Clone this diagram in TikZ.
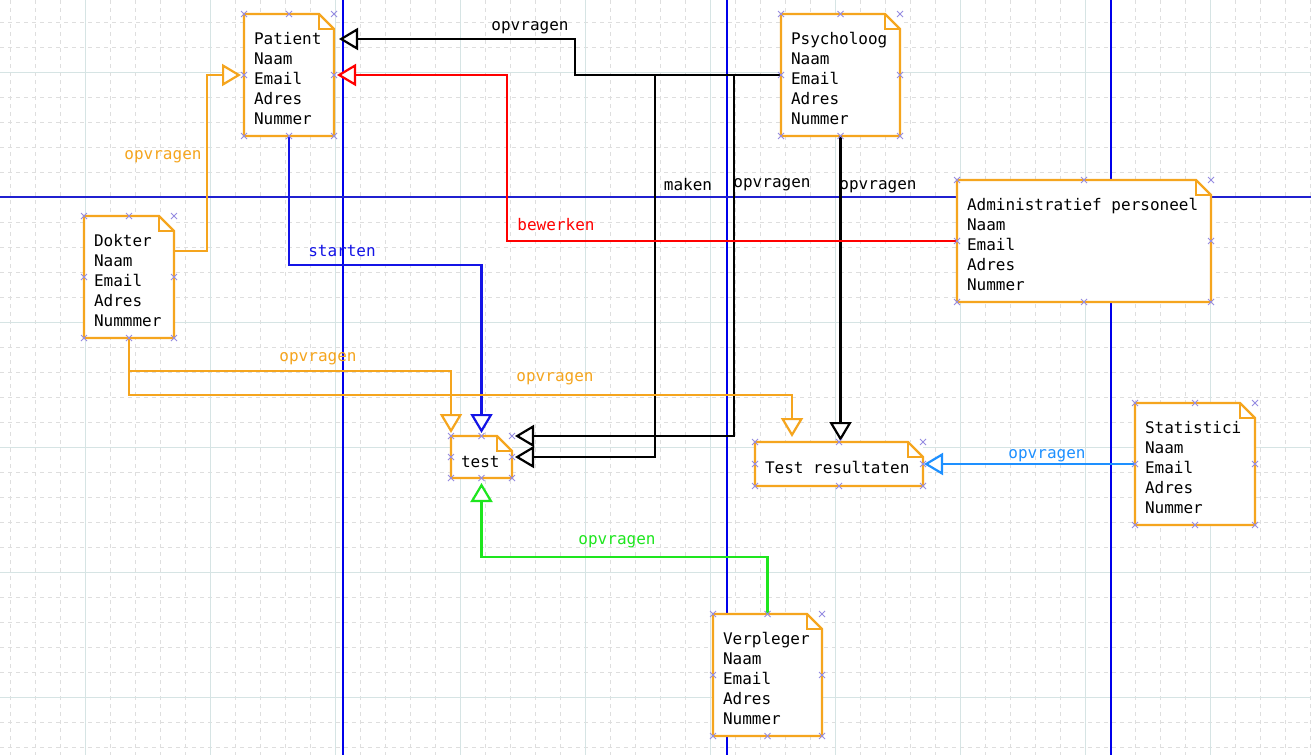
\documentclass[tikz,border=0pt]{standalone}
\usepackage{fontspec}
\newfontfamily\diafont{DejaVu Sans Mono}
\usepackage{tikz}
\usetikzlibrary{arrows.meta, calc, positioning}

\definecolor{diaorange}{RGB}{245,165,30}
\definecolor{diared}{RGB}{255,0,0}
\definecolor{diablue}{RGB}{20,20,230}
\definecolor{skyblue}{RGB}{30,144,255}
\definecolor{diagreen}{RGB}{30,230,30}
\definecolor{pageblue}{RGB}{0,0,235}
\definecolor{gridminor}{RGB}{222,222,222}
\definecolor{gridmajor}{RGB}{214,228,228}
\definecolor{cptcolor}{RGB}{150,140,225}

\newcommand{\boxfont}{\diafont\fontsize{16pt}{20pt}\selectfont}
\newcommand{\monosp}{\hspace*{0.602em}}

\tikzset{
  notebox/.style={anchor=north west, fill=white, outer sep=0pt, inner xsep=10pt,
    inner ysep=0pt, align=left, font=\boxfont, text height=30pt, text depth=92pt},
  notesmall/.style={notebox, text height=31pt, text depth=12pt},
  noteline/.style={draw=diaorange, line width=2.4pt, line join=miter},
  cptline/.style={draw=cptcolor, line width=0.9pt},
  link/.style={line width=2.4pt, shorten >=3pt,
    -{Triangle[length=19pt, width=22pt, line width=2.2pt, fill=white]}},
  linklabel/.style={font=\boxfont, inner sep=0pt}
}

\begin{document}
\begin{tikzpicture}[x=1pt, y=-1pt]
  \useasboundingbox (0,0) rectangle (1311,755);
  \fill[white] (0,0) rectangle (1311,755);

  % grid
  \foreach \x in {10,35,...,1310}
    \draw[gridminor, line width=0.8pt, dash pattern=on 4pt off 4pt] (\x,0) -- (\x,755);
  \foreach \y in {22,47,...,755}
    \draw[gridminor, line width=0.8pt, dash pattern=on 4pt off 4pt] (0,\y) -- (1311,\y);
  \foreach \x in {85,210,...,1310}
    \draw[gridmajor, line width=0.8pt] (\x,0) -- (\x,755);
  \foreach \y in {72,322,447,572,697}
    \draw[gridmajor, line width=0.8pt] (0,\y) -- (1311,\y);

  % page breaks
  \foreach \x in {343,727,1111}
    \draw[pageblue, line width=1.2pt] (\x,0) -- (\x,755);
  \draw[pageblue!75!gray, line width=1.2pt] (0,197) -- (1311,197);

  % classes
  \node[notebox, text width=70pt] (patient) at (244,14) {Patient\\Naam\\Email\\Adres\\Nummer};
  \node[notebox, text width=70pt] (dokter) at (84,216) {Dokter\\Naam\\Email\\Adres\\Nummmer};
  \node[notebox, text width=99pt] (psycholoog) at (781,14) {Psycholoog\\Naam\\Email\\Adres\\Nummer};
  \node[notebox, text width=234pt] (admin) at (957,180) {Administratief\monosp personeel\\Naam\\Email\\Adres\\Nummer};
  \node[notebox, text width=100pt] (statistici) at (1135,403) {Statistici\\Naam\\Email\\Adres\\Nummer};
  \node[notebox, text width=89pt] (verpleger) at (713,614) {Verpleger\\Naam\\Email\\Adres\\Nummer};
  \node[notesmall, text width=41pt, text depth=11pt] (test) at (451,436) {test};
  \node[notesmall, text width=148pt, text depth=13pt] (resultaten) at (755,442) {Test\monosp resultaten};

  \foreach \n in {patient,dokter,psycholoog,admin,statistici,verpleger,test,resultaten}{
    \draw[noteline] (\n.north west) -- ($(\n.north east)+(-15,0)$)
      -- ($(\n.north east)+(0,15)$) -- (\n.south east) -- (\n.south west) -- cycle;
    \draw[noteline, line width=1.2pt] ($(\n.north east)+(-15,0)$) |- ($(\n.north east)+(0,15)$);
  }

  % connectors
  \draw[link, shorten >=5pt] (psycholoog.west) -| (575,39) -- ($(patient.north east)+(0,25)$)
    node[linklabel] (l-psy-pat) at (530,28) {opvragen};
  \draw[link] (psycholoog.west) -- (655,75) |- (test.east)
    node[linklabel] (l-maken) at (688,185) {maken};
  \draw[link] (psycholoog.west) -- (734,75) |- (test.north east)
    node[linklabel] (l-psy-test) at (772,185) {opvragen};
  \draw[link, shorten >=1pt] (psycholoog.south) -- (psycholoog.south |- resultaten.north)
    node[linklabel] (l-psy-res) at (878,187) {opvragen};
  \draw[link, diared] (admin.west) -- ++(-450,0) |- (patient.east)
    node[linklabel] (l-bewerken) at (556,225) {bewerken};
  \draw[link, diablue] (patient.south) -- ++(0,129) -| (test.north)
    node[linklabel] (l-starten) at (342,251) {starten};
  \draw[link, diaorange] ($(dokter.north east)+(0,35)$) -- ++(33,0) |- (patient.west)
    node[linklabel] (l-dok-pat) at (163,157) {opvragen};
  \draw[link, diaorange] (dokter.south) -- ++(0,33) -| (test.north west)
    node[linklabel] (l-dok-test) at (318,359) {opvragen};
  \draw[link, diaorange, shorten >=5pt] (dokter.south) -- ++(0,57) -| ($(resultaten.north west)+(37,0)$)
    node[linklabel] (l-dok-res) at (555,379) {opvragen};
  \draw[link, skyblue, shorten >=1pt] (statistici.west) -- (resultaten.east)
    node[linklabel] (l-stat) at (1047,456) {opvragen};
  \draw[link, diagreen, shorten >=5pt] (verpleger.north) -- ++(0,-57) -| (test.south)
    node[linklabel] (l-verpl) at (617,542) {opvragen};

  % connection points
  \foreach \n in {patient,dokter,psycholoog,admin,statistici,verpleger,test,resultaten}
    \foreach \a in {north west,north,north east,west,east,south west,south,south east}
      \draw[cptline] ($(\n.\a)+(-3,-3)$) -- ++(6,6) ($(\n.\a)+(-3,3)$) -- ++(6,-6);
\end{tikzpicture}
\end{document}
